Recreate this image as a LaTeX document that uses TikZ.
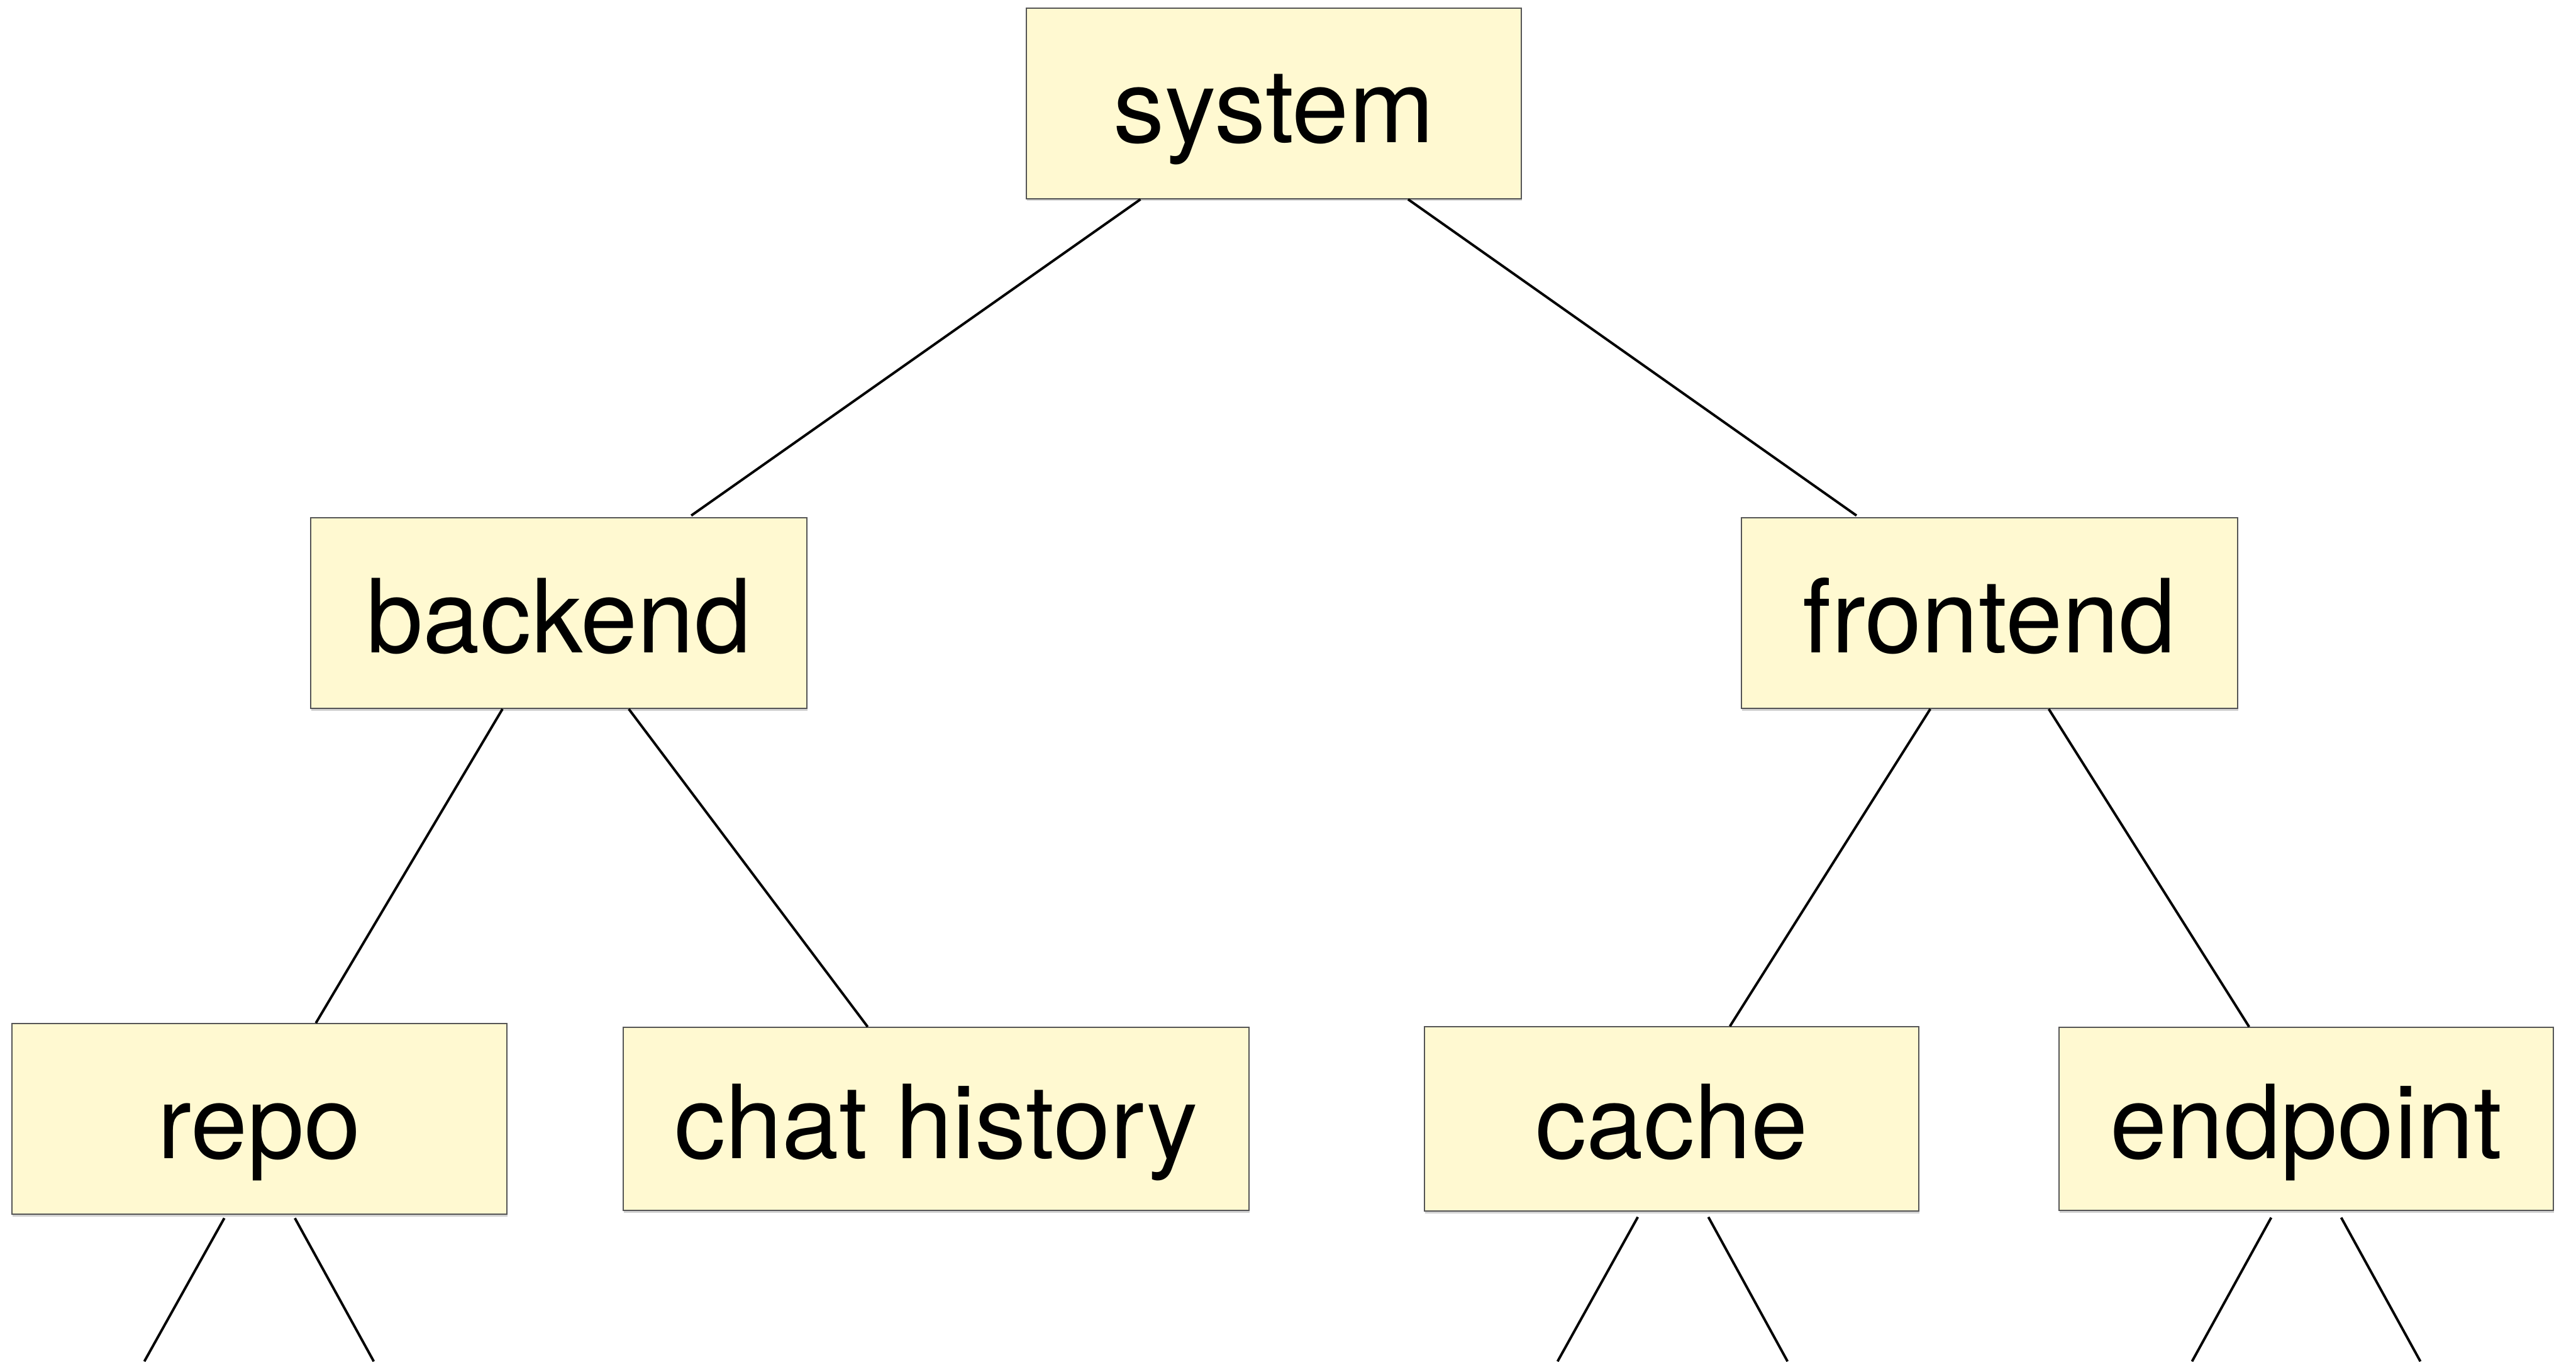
\documentclass[tikz,border=0pt]{standalone}
\usepackage{fontspec}
\setmainfont{TeX Gyre Heros}
\usetikzlibrary{shadows}
\definecolor{boxfill}{HTML}{FFF9D1}
\definecolor{boxline}{HTML}{555555}
\begin{document}
\begin{tikzpicture}[x=1cm,y=1cm,
  box/.style={draw=boxline, line width=0.6pt, fill=boxfill, inner sep=0pt,
    font=\fontsize{54}{62}\selectfont, text height=1.46cm, text depth=0pt,
    drop shadow={opacity=0.35, shadow xshift=0.01cm, shadow yshift=-0.04cm}},
  edge/.style={line width=1.3pt, black}]
\useasboundingbox (0,0) rectangle (47.83,-25.27);
\fill[white] (0,0) rectangle (47.83,-25.27);
\node[box, minimum width=9.19cm, minimum height=3.54cm] (system) at (23.655,-1.92) {system};
\node[box, minimum width=9.21cm, minimum height=3.54cm] (backend) at (10.375,-11.38) {backend};
\node[box, minimum width=9.22cm, minimum height=3.54cm] (frontend) at (36.94,-11.38) {frontend};
\node[box, minimum width=9.19cm, minimum height=3.54cm] (repo) at (4.815,-20.77) {repo};
\node[box, minimum width=11.62cm, minimum height=3.40cm] (chat) at (17.38,-20.77) {chat history};
\node[box, minimum width=9.18cm, minimum height=3.42cm] (cache) at (31.04,-20.77) {cache};
\node[box, minimum width=9.18cm, minimum height=3.40cm] (endpoint) at (42.82,-20.77) {endpoint};
% free ends at the bottom edge
\coordinate (r1) at (2.68,-25.27);
\coordinate (r2) at (6.94,-25.27);
\coordinate (c1) at (28.92,-25.27);
\coordinate (c2) at (33.19,-25.27);
\coordinate (e1) at (40.70,-25.27);
\coordinate (e2) at (44.94,-25.27);
\draw[edge] ([xshift=-2.48cm]system.south) -- ([xshift=2.46cm,yshift=0.03cm]backend.north);
\draw[edge] ([xshift=2.49cm]system.south) -- ([xshift=-2.47cm,yshift=0.03cm]frontend.north);
\draw[edge] ([xshift=-1.045cm]backend.south) -- ([xshift=1.05cm]repo.north);
\draw[edge] ([xshift=1.30cm]backend.south) -- ([xshift=-1.27cm]chat.north);
\draw[edge] ([xshift=-1.10cm]frontend.south) -- ([xshift=1.08cm]cache.north);
\draw[edge] ([xshift=1.10cm]frontend.south) -- ([xshift=-1.06cm]endpoint.north);
\draw[edge] ([xshift=-0.65cm,yshift=-0.06cm]repo.south) -- (r1);
\draw[edge] ([xshift=0.66cm,yshift=-0.06cm]repo.south) -- (r2);
\draw[edge] ([xshift=-0.63cm,yshift=-0.1cm]cache.south) -- (c1);
\draw[edge] ([xshift=0.68cm,yshift=-0.1cm]cache.south) -- (c2);
\draw[edge] ([xshift=-0.65cm,yshift=-0.12cm]endpoint.south) -- (e1);
\draw[edge] ([xshift=0.65cm,yshift=-0.12cm]endpoint.south) -- (e2);
\end{tikzpicture}
\end{document}
